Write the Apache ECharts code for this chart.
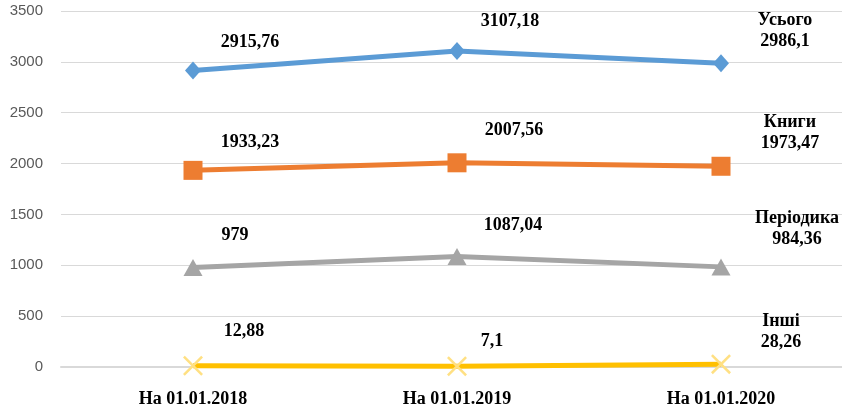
<!DOCTYPE html>
<html>
<head>
<meta charset="utf-8">
<script src="https://cdn.jsdelivr.net/npm/echarts@6/dist/echarts.min.js"></script>
<style>html,body{margin:0;padding:0;background:#fff}#c{width:842px;height:406px}</style>
</head>
<body>
<div id="c"></div>
<script>
const categories = ['На 01.01.2018', 'На 01.01.2019', 'На 01.01.2020'];
const seriesNames = ['Усього', 'Книги', 'Періодика', 'Інші'];
const totalValues = [2915.76, 3107.18, 2986.1];
const booksValues = [1933.23, 2007.56, 1973.47];
const periodicalsValues = [979, 1087.04, 984.36];
const otherValues = [12.88, 7.1, 28.26];
const yTicks = { min: 0, max: 3500, interval: 500 };

// label offsets (px) relative to the data point
const labelOffsets = [
  [[57, -28], [53, -30], [64, -32]],
  [[57, -28], [57, -32], [69, -33]],
  [[42, -32], [56, -31], [76, -38]],
  [[51, -34], [35, -25], [60, -32]]
];
const colors = ['#5B9BD5', '#ED7D31', '#A5A5A5', '#FFC000'];
const symbols = ['diamond', 'rect', 'triangle',
  'path://M0,0.9L0.9,0L10,9.1L9.1,10Z M9.1,0L10,0.9L0.9,10L0,9.1Z'];
const symbolSizes = [[16, 18], 19, [19, 17], 20];
const allValues = [totalValues, booksValues, periodicalsValues, otherValues];

const fmt = v => String(v).replace('.', ',');
const serif = '"Liberation Serif", "Times New Roman", serif';

const series = allValues.map((vals, si) => ({
  name: seriesNames[si],
  type: 'line',
  data: vals.map((v, i) => ({
    value: v,
    label: {
      offset: labelOffsets[si][i],
      formatter: i === vals.length - 1 ? seriesNames[si] + '\n' + fmt(v) : fmt(v)
    }
  })),
  symbol: symbols[si],
  symbolSize: symbolSizes[si],
  showAllSymbol: true,
  lineStyle: { color: colors[si], width: 5 },
  itemStyle: { color: si === 3 ? '#FFE083' : colors[si], opacity: 1 },
  label: {
    show: true,
    position: 'inside',
    align: 'center',
    verticalAlign: 'middle',
    fontFamily: serif,
    fontWeight: 'bold',
    fontSize: 18,
    lineHeight: 21,
    color: '#000'
  },
  emphasis: { disabled: true },
  z: 10 - si,
  animation: false
}));

const chart = echarts.init(document.getElementById('c'));
chart.setOption({
  animation: false,
  grid: { left: 61, top: 11, bottom: 39, right: -11, outerBoundsMode: 'none', containLabel: false },
  xAxis: {
    type: 'category',
    data: categories,
    boundaryGap: true,
    axisLine: { show: true, lineStyle: { color: '#D9D9D9', width: 2 } },
    axisTick: { show: false },
    axisLabel: { margin: 23, fontFamily: serif, fontWeight: 'bold', fontSize: 18, color: '#000' }
  },
  yAxis: {
    type: 'value',
    min: yTicks.min, max: yTicks.max, interval: yTicks.interval,
    axisLine: { show: false },
    axisTick: { show: false },
    splitLine: { lineStyle: { color: '#D9D9D9', width: 1 } },
    axisLabel: { margin: 18, fontFamily: '"Liberation Sans", Arial, sans-serif', fontSize: 15, color: '#595959', formatter: v => String(v) }
  },
  series: series
});
</script>
</body>
</html>
